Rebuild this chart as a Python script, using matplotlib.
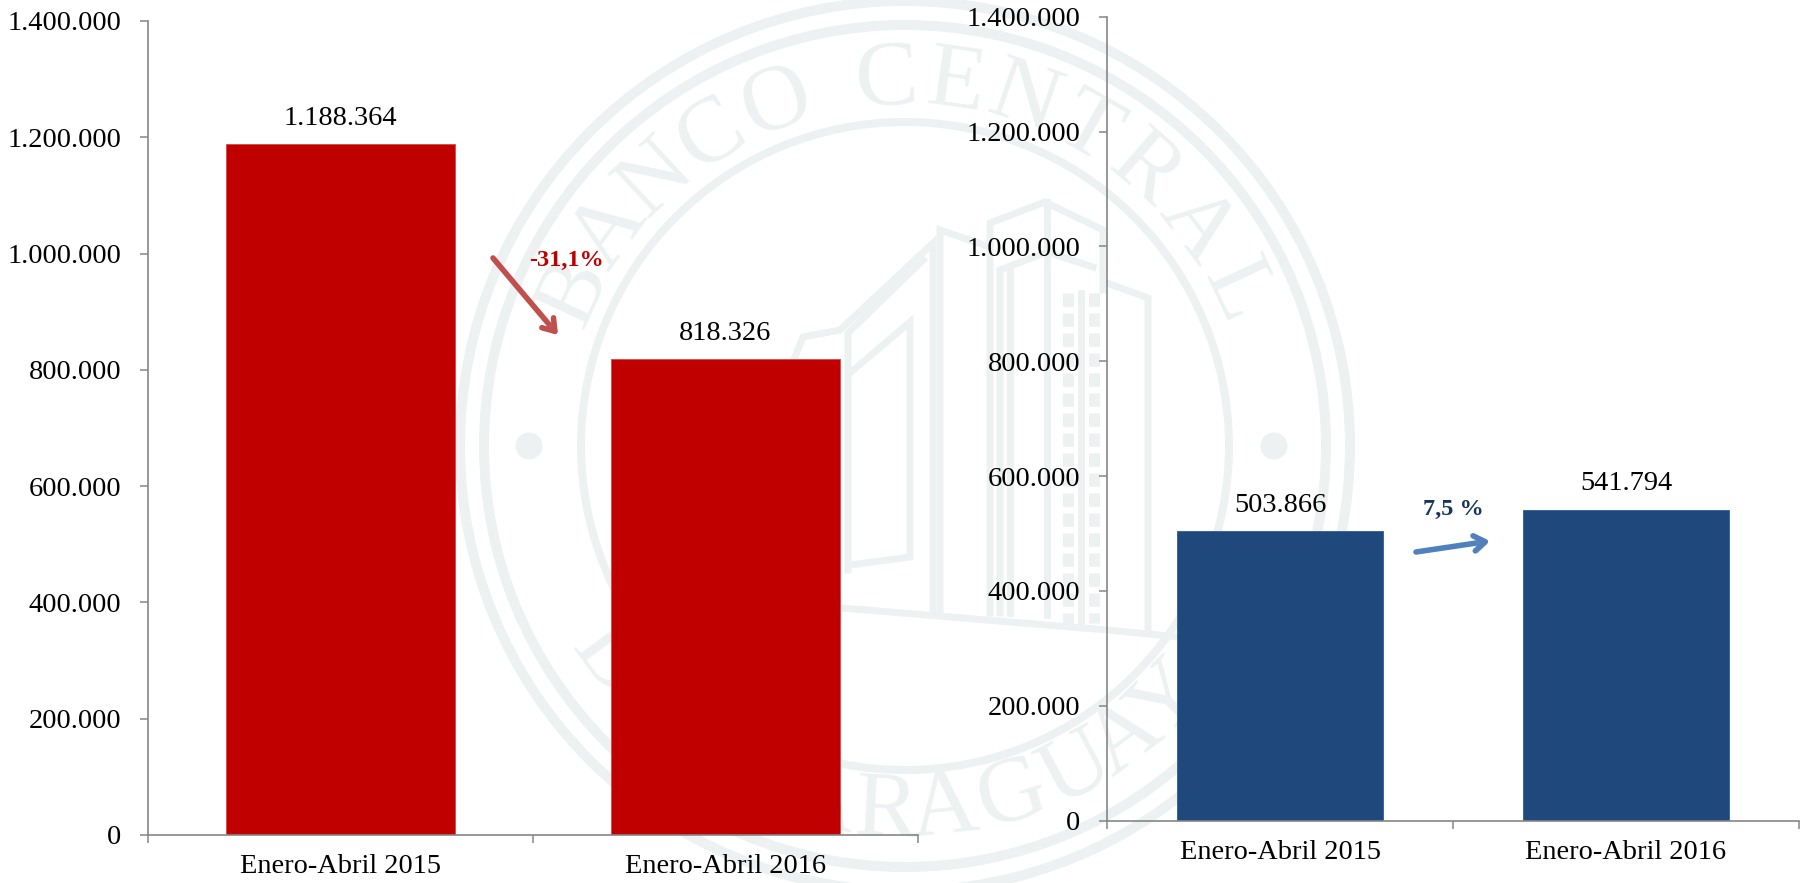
#!/usr/bin/env python3

"""
plot.py
Two bar panels, Enero-Abril 2015 against 2016, over the bank seal watermark.
"""

# Imports
# ----------------------------------------------------------------------
import numpy as np
import matplotlib as mpl
mpl.use("Agg")
import matplotlib.pyplot as plt
import matplotlib.patheffects as pe
from matplotlib.patches import Circle
from matplotlib.ticker import FuncFormatter
# ----------------------------------------------------------------------

# Data
# ----------------------------------------------------------------------
categories = ["Enero-Abril 2015", "Enero-Abril 2016"]
left_values = [1188364, 818326]
right_values = [503866, 541794]
y_ticks = [0, 200000, 400000, 600000, 800000, 1000000, 1200000, 1400000]
left_change = "-31,1%"
right_change = "7,5 %"
top_letters = list("BANCOCENTRAL")
top_angles = [-65, -54, -43, -32, -20.5, -3, 8, 19, 30, 41, 53, 65]
bottom_letters = list("DELPARAGUAY")
bottom_angles = [-54, -44, -36, -23, -13, -3, 6, 17, 28, 37, 46]
# ----------------------------------------------------------------------

# Global constants
# ----------------------------------------------------------------------
W, H = 1805, 883
FONT = "Liberation Serif"
FONTSIZE = 20.4
AXIS_COLOR = "#868686"
SEAL_COLOR = "#EDF1F1"
RED, RED_EDGE, RED_ARROW = "#C00000", "#D85050", "#C0504D"
BLUE, BLUE_EDGE, BLUE_ARROW, BLUE_TEXT = "#1F497D", "#3A66A0", "#4F81BD", "#17365D"
SEAL_X, SEAL_Y = 905, 446
BUILDING = [
    [(793, 362), (803, 337), (840, 330), (933, 243), (933, 610)],
    [(940, 610), (940, 230), (990, 247)],
    [(848, 570), (848, 333), (923, 260)],
    [(850, 373), (910, 322), (910, 557), (850, 565)],
    [(990, 613), (990, 223), (1045, 202), (1103, 230), (1103, 290)],
    [(1047, 615), (1047, 202)],
    [(1000, 613), (1000, 270), (1047, 252), (1093, 267)],
    [(1010, 613), (1010, 267)],
    [(1107, 283), (1148, 298), (1148, 633)],
    [(842, 608), (1107, 630), (1210, 640)],
    [(1081, 293), (1081, 623)],
]
# ----------------------------------------------------------------------


def draw_seal(ax):
    """
    Draws the watermark in pixel coordinates.
    """
    for radius, width in [(445, 10), (421, 10), (324, 8)]:
        ax.add_patch(Circle((SEAL_X, SEAL_Y), radius, fill=False,
                            ec=SEAL_COLOR, lw=width * 0.72))
    for x in [529, 1274]:
        ax.add_patch(Circle((x, SEAL_Y), 13.5, fc=SEAL_COLOR, ec="none"))
    for letter, angle in zip(top_letters, top_angles):
        a = np.radians(angle)
        ax.text(SEAL_X + 365 * np.sin(a), SEAL_Y - 365 * np.cos(a), letter,
                rotation=-angle, rotation_mode="anchor", ha="center",
                va="center", color=SEAL_COLOR, family=FONT, fontsize=68)
    for letter, angle in zip(bottom_letters, bottom_angles):
        a = np.radians(angle)
        ax.text(SEAL_X + 367 * np.sin(a), SEAL_Y + 367 * np.cos(a), letter,
                rotation=angle, rotation_mode="anchor", ha="center",
                va="center", color=SEAL_COLOR, family=FONT, fontsize=68)
    for line in BUILDING:
        xs, ys = zip(*line)
        ax.plot(xs, ys, color=SEAL_COLOR, lw=5, solid_joinstyle="miter")
    # stepped pattern down the tower
    for x in [1068, 1094]:
        ax.plot([x, x], [293, 623], color=SEAL_COLOR, lw=8,
                linestyle=(0, (1.2, 0.6)))


def draw_panel(fig, box, values, bar_color, edge_color):
    """
    Draws one bar panel. box is left, top, right, bottom in pixels.
    """
    left, top, right, bottom = box
    ax = fig.add_axes([left / W, (H - bottom) / H, (right - left) / W, (bottom - top) / H])
    ax.patch.set_alpha(0)
    ax.bar([0.5, 1.5], values, width=0.597, color=bar_color,
           edgecolor=edge_color, linewidth=0.7)
    ax.set_xlim(0, 2)
    ax.set_ylim(0, 1400000)
    ax.set_yticks(y_ticks)
    ax.yaxis.set_major_formatter(FuncFormatter(lambda v, p: f"{int(v):,}".replace(",", ".")))
    ax.set_xticks([0, 1, 2])
    ax.set_xticklabels([])
    ax.set_xticks([0.5, 1.5], minor=True)
    ax.set_xticklabels(categories, minor=True, family=FONT, fontsize=FONTSIZE)
    ax.tick_params(axis="x", which="minor", length=0, pad=14)
    ax.tick_params(axis="x", which="major", length=6, width=1.1, color=AXIS_COLOR)
    ax.tick_params(axis="y", length=6, width=1.1, color=AXIS_COLOR, pad=13, labelsize=FONTSIZE)
    for label in ax.get_yticklabels():
        label.set_family(FONT)
    for side in ["top", "right"]:
        ax.spines[side].set_visible(False)
    for side in ["left", "bottom"]:
        ax.spines[side].set_color(AXIS_COLOR)
        ax.spines[side].set_linewidth(1.2)
    for x, value in zip([0.5, 1.5], values):
        ax.annotate(f"{value:,}".replace(",", "."), (x, value), xytext=(0, 14),
                    textcoords="offset points", ha="center", va="baseline",
                    family=FONT, fontsize=FONTSIZE, color="black")
    return ax


def draw_arrow(ax, start, end, color):
    """
    Draws a change arrow with a soft shadow.
    """
    shadow = [pe.SimplePatchShadow(offset=(1.5, -2), shadow_rgbFace="#888888", alpha=0.35), pe.Normal()]
    ax.annotate("", xy=end, xytext=start,
                arrowprops=dict(arrowstyle="->,head_length=0.8,head_width=0.55",
                                color=color, lw=4, shrinkA=0, shrinkB=0,
                                path_effects=shadow))


def main():
    """
    Generates the plot.
    """
    fig = plt.figure(figsize=(W / 100, H / 100), dpi=100, facecolor="white")

    # background layer in pixels, y down
    back = fig.add_axes([0, 0, 1, 1])
    back.set_xlim(0, W)
    back.set_ylim(H, 0)
    back.axis("off")
    draw_seal(back)

    draw_panel(fig, (148, 21, 918, 835), left_values, RED, RED_EDGE)
    draw_panel(fig, (1107, 16.7, 1799, 820.7), right_values, BLUE, BLUE_EDGE)

    draw_arrow(back, (493, 258), (558, 335), RED_ARROW)
    draw_arrow(back, (1416, 552), (1490, 541), BLUE_ARROW)
    back.text(567, 266, left_change, ha="center", va="baseline", family=FONT,
              fontsize=17.5, fontweight="bold", color=RED)
    back.text(1453, 515, right_change, ha="center", va="baseline", family=FONT,
              fontsize=17.5, fontweight="bold", color=BLUE_TEXT)

    fig.savefig("out.png", dpi=100, facecolor="white")
    return


if __name__ == "__main__":
    main()
